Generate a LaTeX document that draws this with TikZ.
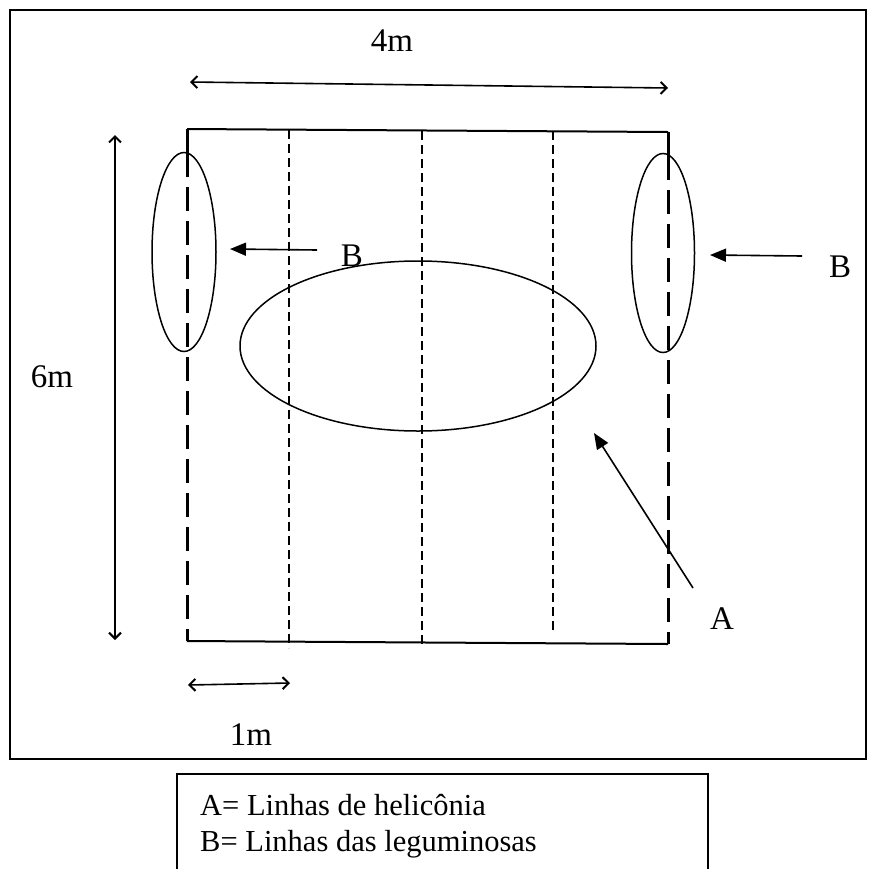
\documentclass[tikz,border=0pt]{standalone}
\usepackage{fontspec}
\setmainfont{Liberation Serif}
\usetikzlibrary{arrows.meta, shapes.geometric}
\tikzset{
  lbl/.style={font=\fontsize{33}{38}\selectfont, inner sep=0pt},
  keytext/.style={font=\fontsize{30.5}{36}\selectfont, inner sep=0pt, anchor=base west},
  ring/.style={draw, ellipse, line width=1.5pt, inner sep=0pt},
  post/.style={line width=3pt, dash pattern=on 24pt off 10pt},
  row/.style={line width=1.3pt, dash pattern=on 9pt off 5pt},
  dim/.style={{Straight Barb[length=6pt,width=12pt,line width=2pt]}-{Straight Barb[length=6pt,width=12pt,line width=2pt]}, line width=1.6pt},
  pointer/.style={-{Triangle[length=16pt,width=13pt]}, line width=1.6pt},
}

\begin{document}
\begin{tikzpicture}[x=1pt, y=-1pt]
  \useasboundingbox (0,0) rectangle (880,868);
  \draw[line width=1.5pt] (10,10) rectangle (866,759);
  % plot corners
  \coordinate (tl) at (187,129);
  \coordinate (tr) at (668,132);
  \coordinate (bl) at (187,641);
  \coordinate (br) at (668,644);
  \draw[line width=2pt] (tl) -- (tr);
  \draw[line width=2pt] (bl) -- (br);
  % leguminosas
  \draw[line width=3pt] (tl) -- ++(0,24);
  \draw[post] (187,153) -- (bl);
  \draw[line width=3pt] (tr) -- ++(0,24);
  \draw[post] (668,156) -- (br);
  % helicônia
  \foreach \x/\y/\z in {289/130/648, 422/131/646, 553/131/632}
    \draw[row] (\x,\y) -- (\x,\z);
  \node[ring, minimum width=64pt, minimum height=199pt] (legL) at (184,252) {};
  \node[ring, minimum width=63pt, minimum height=199pt] (legR) at (663,253) {};
  \node[ring, minimum width=356pt, minimum height=170pt] (helic) at (418,346) {};
  % labels
  \node[lbl] (dimW) at (392,41) {4m};
  \node[lbl] (dimH) at (52,377) {6m};
  \node[lbl] (dimS) at (251,735) {1m};
  \node[lbl] (labBL) at (352,256) {B};
  \node[lbl] (labBR) at (840,267) {B};
  \node[lbl] (labA) at (722,619) {A};
  % dimensions
  \coordinate (wL) at (190,82);
  \coordinate (wR) at (668,88);
  \coordinate (hT) at (115,135);
  \coordinate (hB) at (115,640);
  \coordinate (sL) at (188,685);
  \coordinate (sR) at (290,683);
  \draw[dim] (wL) -- (wR);
  \draw[dim] (hT) -- (hB);
  \draw[dim] (sL) -- (sR);
  % pointers
  \coordinate (tailBL) at (317,250);
  \coordinate (tipBL) at (230,249);
  \coordinate (tailBR) at (802,256);
  \coordinate (tipBR) at (710,255);
  \coordinate (tipA) at (594,433);
  \coordinate (tailA) at (693,588);
  \draw[pointer] (tailBL) -- (tipBL);
  \draw[pointer] (tailBR) -- (tipBR);
  \draw[pointer] (tailA) -- (tipA);
  % legend
  \draw[line width=1.5pt] (177,870) -- (177,774) -- (708,774) -- (708,870);
  \node[keytext] (keyA) at (200,815) {A= Linhas de helicônia};
  \node[keytext] (keyB) at (200,851) {B= Linhas das leguminosas};
\end{tikzpicture}
\end{document}
